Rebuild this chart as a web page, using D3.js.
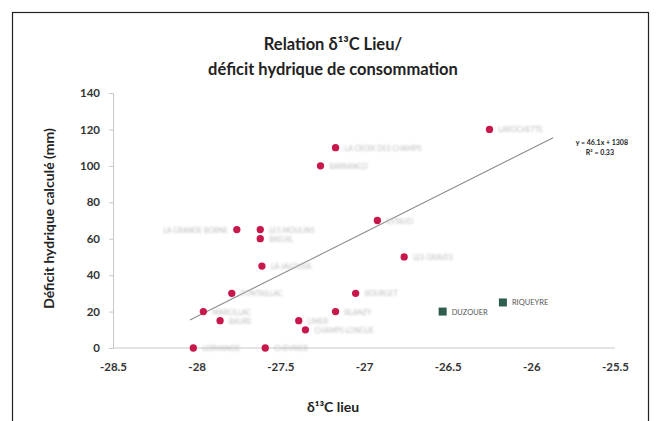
<!DOCTYPE html>
<html>
<head>
<meta charset="utf-8">
<script src="https://cdn.jsdelivr.net/npm/d3@7"></script>
<style>
  body { margin: 0; background: #fff; }
  text { font-family: Lato, "Open Sans", sans-serif; }
</style>
</head>
<body>
<div id="chart"></div>
<script>
(function(){

// data
var deltaC = [-26.25, -27.17, -27.26, -26.92, -27.76, -27.62, -27.62, -27.61, -26.76,
              -27.79, -27.96, -27.86, -27.39, -27.35, -27.17, -27.05, -28.02, -27.59];
var deficit = [120, 110, 100, 70, 65, 65, 60, 45, 50, 30, 20, 15, 15, 10, 20, 30, 0, 0];
var siteNames = ['LAROCHETTE', 'LA CROIX DES CHAMPS', 'BARRANCO', 'ESTAUD', 'LA GRANDE BORNE',
                 'LES MOULINS', 'BREUIL', 'LA JALOUSIE', 'LES GRAVES', 'PONTAILLAC',
                 'MARCILLAC', 'BAURE', 'LIMER', 'CHAMPS LONGUE', 'BLANZY',
                 'BOURGET', 'LERMANDE', 'CHEVRIER'];
var labelLeft = [false, false, false, false, true, false, false, false, false,
                 false, false, false, false, false, false, false, false, false];

var otherX = [-26.17, -26.53];
var otherY = [25, 20];
var otherNames = ['RIQUEYRE', 'DUZOUER'];

var xTicks = [-28.5, -28, -27.5, -27, -26.5, -26, -25.5];
var yTicks = [0, 20, 40, 60, 80, 100, 120, 140];

var trendSlope = 46.1, trendIntercept = 1308;
var trendRange = [-28.04, -25.87];

var width = 660, height = 421;
var plot = {left: 113, right: 615, top: 93, bottom: 348};

var svg = d3.select('#chart').append('svg')
    .attr('width', width)
    .attr('height', height);

svg.append('rect')
    .attr('x', 12.5).attr('y', 12.5)
    .attr('width', 636).attr('height', 420)
    .attr('fill', '#fff')
    .attr('stroke', '#222').attr('stroke-width', 1.2);

var defs = svg.append('defs');
defs.append('filter').attr('id', 'soft')
    .append('feGaussianBlur').attr('stdDeviation', 0.9);

var x = d3.scaleLinear().domain([-28.5, -25.5]).range([plot.left, plot.right]);
var y = d3.scaleLinear().domain([0, 140]).range([plot.bottom, plot.top]);

// title
var title = svg.append('text')
    .attr('text-anchor', 'middle')
    .attr('font-size', 16.5)
    .attr('font-weight', 'bold')
    .attr('fill', '#222');
title.append('tspan').attr('x', 333).attr('y', 50).text('Relation δ¹³C Lieu/');
title.append('tspan').attr('x', 333).attr('y', 75).text('déficit hydrique de consommation');

// axes
var yAxis = svg.append('g')
    .attr('transform', 'translate(' + plot.left + ',0)')
    .call(d3.axisLeft(y).tickValues(yTicks).tickSize(4).tickPadding(9));
var xAxis = svg.append('g')
    .attr('transform', 'translate(0,' + plot.bottom + ')')
    .call(d3.axisBottom(x).tickValues(xTicks).tickSize(0).tickPadding(15)
          .tickFormat(function(d) { return d; }));

[yAxis, xAxis].forEach(function(a) {
  a.selectAll('path.domain').attr('stroke', '#c8c8c8');
  a.selectAll('.tick line').attr('stroke', '#c8c8c8');
  a.selectAll('text')
    .attr('font-family', 'Lato, sans-serif')
    .attr('font-size', 11.5)
    .attr('font-weight', 'bold')
    .attr('fill', '#333');
});
xAxis.selectAll('path.domain').attr('d', 'M' + plot.left + ',0H' + plot.right);

// axis titles
svg.append('text')
    .attr('transform', 'translate(54,' + ((plot.top + plot.bottom) / 2 - 2) + ') rotate(-90)')
    .attr('text-anchor', 'middle')
    .attr('font-size', 14)
    .attr('font-weight', 'bold')
    .attr('fill', '#222')
    .text('Déficit hydrique calculé (mm)');

svg.append('text')
    .attr('x', 333).attr('y', 412)
    .attr('text-anchor', 'middle')
    .attr('font-size', 14)
    .attr('font-weight', 'bold')
    .attr('fill', '#222')
    .text('δ¹³C lieu');

// trend line
svg.append('line')
    .attr('x1', x(trendRange[0])).attr('y1', y(trendSlope * trendRange[0] + trendIntercept))
    .attr('x2', x(trendRange[1])).attr('y2', y(trendSlope * trendRange[1] + trendIntercept))
    .attr('stroke', '#8c8c8c').attr('stroke-width', 1.1);

var eq = svg.append('text')
    .attr('text-anchor', 'end')
    .attr('font-size', 7)
    .attr('font-weight', 'bold')
    .attr('fill', '#222');
eq.append('tspan').attr('x', 628).attr('y', 145).text('y = 46.1x + 1308');
eq.append('tspan').attr('x', 614).attr('y', 155).text('R² = 0.33');

// point labels (faint)
var pts = deltaC.map(function(d, i) {
  return {x: d, y: deficit[i], name: siteNames[i], left: labelLeft[i]};
});

svg.append('g').selectAll('text').data(pts).enter()
  .append('text')
    .attr('x', function(d) { return x(d.x) + (d.left ? -9 : 9); })
    .attr('y', function(d) { return y(d.y) + 3; })
    .attr('text-anchor', function(d) { return d.left ? 'end' : 'start'; })
    .attr('font-size', 7)
    .attr('fill', '#bdbdbd')
    .attr('filter', 'url(#soft)')
    .text(function(d) { return d.name; });

svg.append('g').selectAll('path').data(pts).enter()
  .append('path')
    .attr('transform', function(d) { return 'translate(' + x(d.x) + ',' + y(d.y) + ')'; })
    .attr('d', d3.symbol().type(d3.symbolCircle).size(42))
    .attr('fill', '#c8174a');

var others = otherX.map(function(d, i) { return {x: d, y: otherY[i], name: otherNames[i]}; });

svg.append('g').selectAll('rect').data(others).enter()
  .append('rect')
    .attr('x', function(d) { return x(d.x) - 4; })
    .attr('y', function(d) { return y(d.y) - 4; })
    .attr('width', 8).attr('height', 8)
    .attr('fill', '#2f5d4f');

svg.append('g').selectAll('text').data(others).enter()
  .append('text')
    .attr('x', function(d) { return x(d.x) + 9; })
    .attr('y', function(d) { return y(d.y) + 3; })
    .attr('font-size', 7.5)
    .attr('fill', '#555')
    .text(function(d) { return d.name; });

})();
</script>
</body>
</html>
